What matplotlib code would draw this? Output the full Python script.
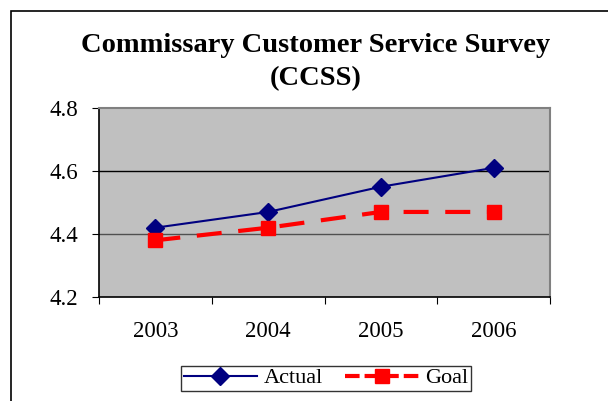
import matplotlib
matplotlib.use("Agg")
import matplotlib.pyplot as plt
from matplotlib.patches import Rectangle
from matplotlib.lines import Line2D

years = ["2003", "2004", "2005", "2006"]
actual = [4.42, 4.47, 4.55, 4.61]
goal = [4.38, 4.42, 4.47, 4.47]
yticks = [4.2, 4.4, 4.6, 4.8]

plt.rcParams['font.family'] = ['Liberation Serif', 'DejaVu Serif']

W, H = 608, 401
fig = plt.figure(figsize=(W/100, H/100), dpi=100)
fig.patch.set_facecolor('white')

# figure border (left & top visible)
fig.add_artist(Rectangle((11/W, -0.1), 1.2, 1.1 - 11/H, transform=fig.transFigure,
                         fill=False, edgecolor='black', linewidth=1.2))

ax = fig.add_axes([99/W, 1 - 297/H, (550-99)/W, (297-108)/H])
ax.set_facecolor('#c0c0c0')
x = list(range(len(years)))
ax.plot(x, actual, color='#000080', linewidth=1.5, marker='D', markersize=9,
        label='Actual', zorder=3)
ax.plot(x, goal, color='#ff0000', linewidth=3, linestyle=(0, (6, 4)), marker='s',
        markersize=10, label='Goal', zorder=3)

ax.set_xlim(-0.5, len(years) - 0.5)
ax.set_ylim(4.2, 4.8)
ax.set_yticks(yticks)
ax.set_yticklabels([f"{v:.1f}" for v in yticks], fontsize=16.5)
ax.set_xticks([i - 0.5 for i in range(len(years) + 1)])
ax.set_xticklabels([])
ax.set_xticks(x, minor=True)
ax.set_xticklabels(years, minor=True, fontsize=16.5)
ax.tick_params(axis='x', which='minor', length=0, pad=17)
ax.tick_params(axis='x', which='major', length=5, direction='out', color='black')
ax.tick_params(axis='y', length=5, direction='out', color='black', pad=10)
ax.axhline(4.6, color='black', linewidth=1, zorder=1)
ax.axhline(4.4, color='#505050', linewidth=1, zorder=1)
for s in ['top', 'right']:
    ax.spines[s].set_color('#808080')
    ax.spines[s].set_linewidth(1.5)
for s in ['left', 'bottom']:
    ax.spines[s].set_color('black')
    ax.spines[s].set_linewidth(1.2)

fig.text(316/W, 1 - 45/H, "Commissary Customer Service Survey", ha='center', va='center',
         fontsize=20.5, fontweight='bold')
fig.text(316/W, 1 - 79/H, "(CCSS)", ha='center', va='center',
         fontsize=20.5, fontweight='bold')

leg = fig.legend(handles=[
    Line2D([], [], color='#000080', linewidth=1.5, marker='D', markersize=9),
    Line2D([], [], color='#ff0000', linewidth=3, linestyle=(0, (3.5, 1.2)),
           marker='s', markersize=10),
], labels=['Actual', 'Goal'], loc='center', bbox_to_anchor=(326/W, 1 - 378/H), ncol=2,
    fontsize=16, frameon=True, fancybox=False, edgecolor='black', handlelength=3.3,
    borderpad=0.1, columnspacing=1.0, handletextpad=0.3)
leg.get_frame().set_linewidth(1)

fig.savefig("out.png", dpi=100)
